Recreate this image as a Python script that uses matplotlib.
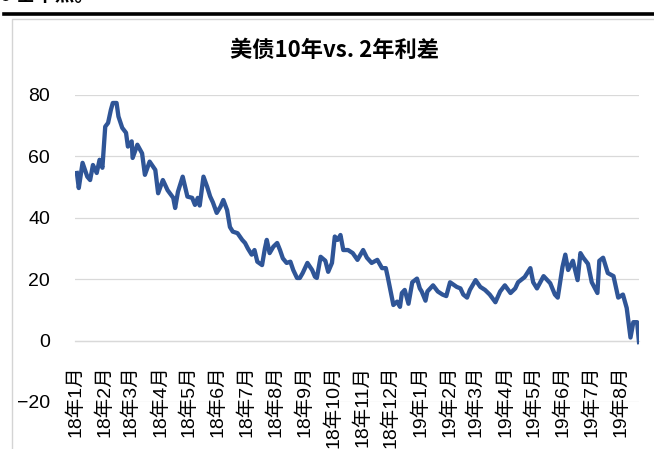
import matplotlib
matplotlib.use("Agg")
import matplotlib.pyplot as plt
from matplotlib.patches import Rectangle
from matplotlib.lines import Line2D
import pandas as pd

# 美债10年 - 2年利差 (bp)
dates = [
    "2018-01-03", "2018-01-05", "2018-01-09", "2018-01-14", "2018-01-17", "2018-01-20",
    "2018-01-24", "2018-01-27", "2018-01-30", "2018-02-02", "2018-02-05", "2018-02-08",
    "2018-02-10", "2018-02-14", "2018-02-16", "2018-02-20", "2018-02-24", "2018-02-26",
    "2018-03-02", "2018-03-03", "2018-03-08", "2018-03-13", "2018-03-16", "2018-03-21",
    "2018-03-27", "2018-03-30", "2018-04-04", "2018-04-09", "2018-04-15", "2018-04-17",
    "2018-04-20", "2018-04-25", "2018-04-30", "2018-05-05", "2018-05-08", "2018-05-11",
    "2018-05-13", "2018-05-17", "2018-05-21", "2018-05-24", "2018-05-27", "2018-05-31",
    "2018-06-04", "2018-06-07", "2018-06-11", "2018-06-14", "2018-06-17", "2018-06-22",
    "2018-06-27", "2018-06-30", "2018-07-03", "2018-07-07", "2018-07-10", "2018-07-13",
    "2018-07-18", "2018-07-21", "2018-07-23", "2018-07-26", "2018-07-30", "2018-08-03",
    "2018-08-06", "2018-08-09", "2018-08-13", "2018-08-17", "2018-08-20", "2018-08-24",
    "2018-08-27", "2018-08-30", "2018-09-04", "2018-09-09", "2018-09-12", "2018-09-14",
    "2018-09-18", "2018-09-23", "2018-09-26", "2018-09-30", "2018-10-03", "2018-10-06",
    "2018-10-09", "2018-10-12", "2018-10-17", "2018-10-22", "2018-10-27", "2018-11-02",
    "2018-11-06", "2018-11-11", "2018-11-17", "2018-11-22", "2018-11-26", "2018-11-28",
    "2018-12-04", "2018-12-08", "2018-12-11", "2018-12-13", "2018-12-16", "2018-12-20",
    "2018-12-24", "2018-12-29", "2019-01-01", "2019-01-03", "2019-01-07", "2019-01-09",
    "2019-01-15", "2019-01-20", "2019-01-25", "2019-01-29", "2019-02-02", "2019-02-09",
    "2019-02-13", "2019-02-16", "2019-02-20", "2019-02-23", "2019-03-01", "2019-03-06",
    "2019-03-11", "2019-03-16", "2019-03-22", "2019-03-27", "2019-04-01", "2019-04-07",
    "2019-04-12", "2019-04-15", "2019-04-22", "2019-04-28", "2019-05-01", "2019-05-05",
    "2019-05-12", "2019-05-16", "2019-05-19", "2019-05-24", "2019-05-27", "2019-06-01",
    "2019-06-04", "2019-06-07", "2019-06-12", "2019-06-17", "2019-06-20", "2019-06-23",
    "2019-06-28", "2019-07-02", "2019-07-08", "2019-07-10", "2019-07-14", "2019-07-19",
    "2019-07-25", "2019-07-30", "2019-08-04", "2019-08-08", "2019-08-12", "2019-08-15",
    "2019-08-19", "2019-08-21",
]
spread = [
    54.6, 49.7, 57.9, 53.4, 52.3, 57.2,
    54.6, 58.9, 56.3, 69.7, 70.9, 75.2,
    77.4, 77.4, 73.0, 69.3, 67.7, 63.2,
    64.9, 59.5, 63.8, 61.0, 54.0, 58.3,
    55.6, 48.0, 52.3, 49.0, 46.5, 43.2,
    48.5, 53.4, 46.9, 46.5, 44.2, 46.5,
    44.0, 53.4, 50.0, 47.0, 45.0, 41.6,
    43.6, 45.8, 42.5, 37.0, 35.5, 35.0,
    32.8, 31.8, 30.0, 28.0, 29.5, 25.7,
    24.6, 30.0, 32.8, 28.5, 30.6, 31.8,
    29.5, 26.8, 25.3, 25.7, 23.0, 20.4,
    20.4, 22.0, 25.3, 23.0, 20.8, 20.4,
    27.3, 26.0, 22.4, 25.3, 33.9, 32.8,
    34.4, 29.5, 29.5, 28.5, 26.3, 29.5,
    27.0, 25.3, 26.3, 23.6, 23.6, 20.8,
    11.6, 12.7, 11.0, 15.5, 16.5, 12.0,
    19.0, 20.2, 17.0, 16.0, 13.0, 16.0,
    18.0, 16.0, 15.0, 14.5, 19.0, 17.5,
    17.0, 15.0, 14.0, 16.5, 19.7, 17.5,
    16.5, 15.0, 12.5, 16.0, 18.0, 15.5,
    17.0, 19.0, 20.7, 23.6, 19.0, 17.0,
    21.0, 19.7, 18.7, 15.0, 14.0, 24.0,
    28.0, 23.0, 26.0, 19.7, 28.5, 27.0,
    25.0, 19.0, 15.5, 26.0, 27.0, 22.0,
    21.0, 14.0, 15.0, 10.6, 1.0, 6.0,
    6.0, -0.5,
]

month_ticks = pd.date_range("2018-01-01", "2019-08-01", freq="MS")
tick_labels = ["18年1月", "18年2月", "18年3月", "18年4月", "18年5月", "18年6月",
               "18年7月", "18年8月", "18年9月", "18年10月", "18年11月", "18年12月",
               "19年1月", "19年2月", "19年3月", "19年4月", "19年5月", "19年6月",
               "19年7月", "19年8月"]
y_ticks = [-20, 0, 20, 40, 60, 80]

W, H = 654, 449
fig = plt.figure(figsize=(W / 100, H / 100), dpi=100)

# 报告正文残留 + 黑色分隔线 + 图框
fig.text(0.0, 1 - 5 / H, "0 基本点。", fontsize=14, fontweight="bold",
         family=["Noto Sans CJK SC", "DejaVu Sans"], va="bottom", ha="left")
fig.add_artist(Line2D([4 / W, 1], [1 - 13.5 / H, 1 - 13.5 / H], color="black", lw=2.6))
fig.add_artist(Rectangle((12 / W, -0.05), 1.0, 1 - 19 / H + 0.05, fill=False,
                         edgecolor="#d4d4d4", lw=1.0))

fig.text(335 / W, 1 - 50 / H, "美债10年vs. 2年利差", fontsize=16, fontweight="bold",
         family=["Noto Sans CJK SC", "DejaVu Sans"], ha="center", va="center")

ax = fig.add_axes([75 / W, 1 - 402 / H, (639 - 75) / W, (402 - 95) / H])
x = pd.to_datetime(dates)
ax.plot(x, spread, color="#2f5597", lw=3.1, solid_joinstyle="round", zorder=3)

ax.set_xlim(pd.Timestamp("2018-01-01"), pd.Timestamp("2019-08-21"))
ax.set_ylim(-20, 80)
ax.set_yticks(y_ticks)
ax.grid(axis="y", color="#d9d9d9", lw=0.9, zorder=0)

for s in ["top", "right", "left"]:
    ax.spines[s].set_visible(False)
ax.spines["bottom"].set_position(("data", 0))
ax.spines["bottom"].set_color("#d9d9d9")
ax.spines["bottom"].set_linewidth(0.9)

ax.set_xticks(month_ticks)
ax.set_xticklabels(tick_labels, rotation=90, ha="center", va="top",
                   family=["Liberation Sans", "Noto Sans CJK SC"], fontsize=14)
ax.tick_params(axis="x", length=0, pad=18)
ax.tick_params(axis="y", length=0, pad=18, labelsize=14)
for lab in ax.get_yticklabels():
    lab.set_family(["Liberation Sans", "DejaVu Sans"])

fig.savefig("out.png", dpi=100)
